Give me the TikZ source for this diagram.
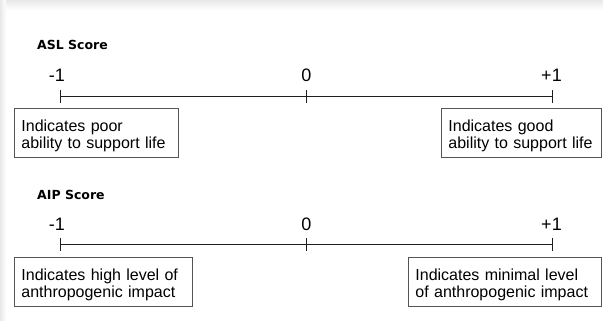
\documentclass[tikz,border=0pt]{standalone}
\usepackage{fontspec}
\setmainfont{Liberation Sans}
\newfontfamily\titlefont{DejaVu Sans}
\usetikzlibrary{positioning}
\definecolor{boxline}{gray}{0.33}
\definecolor{axisink}{gray}{0.12}
\definecolor{pageshadow}{gray}{0.91}
\tikzset{
  scaletitle/.style={font=\titlefont\bfseries\fontsize{12.5}{14}\selectfont,
    anchor=base west, inner sep=0pt},
  ticklabel/.style={font=\fontsize{18}{20}\selectfont, anchor=base, inner sep=0pt},
  notebox/.style={draw=boxline, line width=0.9pt, align=left, anchor=north west,
    text width=#1, minimum height=49pt, inner xsep=7pt, inner ysep=0pt,
    font=\fontsize{16}{17.5}\selectfont,
    execute at begin node={\rule{0pt}{17.5pt}}},
  axisline/.style={line width=0.9pt, color=axisink}
}

\begin{document}
\begin{tikzpicture}[x=1pt, y=-1pt]
    \useasboundingbox (0,0) rectangle (603,321);
    % Page shadow
    \shade[top color=pageshadow, bottom color=white] (0,0) rectangle (603,10);
    \shade[left color=pageshadow, right color=white] (0,0) rectangle (6,321);

    % ASL scale
    \node[scaletitle] (asl) at (37,50) {ASL Score};
    \coordinate (aslmin) at (60,96.5);
    \coordinate (aslmid) at (306.5,96.5);
    \coordinate (aslmax) at (552,96.5);
    \draw[axisline] (aslmin) -- (aslmax);
    \foreach \t in {aslmin, aslmid, aslmax}
      \draw[axisline] (\t) ++(0,-6) -- ++(0,12.5);
    \node[ticklabel] (aslminlab) at (57,82) {-1};
    \node[ticklabel] (aslmidlab) at (306.5,82) {0};
    \node[ticklabel] (aslmaxlab) at (551.5,82) {+1};
    \node[notebox=150pt] (aslpoor) at (14,108) {Indicates poor\\ability to support life};
    \node[notebox=146pt] (aslgood) at (441,108) {Indicates good\\ability to support life};

    % AIP scale
    \node[scaletitle] (aip) at (37,199) {AIP Score};
    \coordinate (aipmin) at (60,244);
    \coordinate (aipmid) at (306.5,244);
    \coordinate (aipmax) at (552,244);
    \draw[axisline] (aipmin) -- (aipmax);
    \foreach \t in {aipmin, aipmid, aipmax}
      \draw[axisline] (\t) ++(0,-6) -- ++(0,12.5);
    \node[ticklabel] (aipminlab) at (57,230) {-1};
    \node[ticklabel] (aipmidlab) at (306.5,230) {0};
    \node[ticklabel] (aipmaxlab) at (551.5,230) {+1};
    \node[notebox=164pt] (aiphigh) at (14,257) {Indicates high level of\\anthropogenic impact};
    \node[notebox=179pt] (aiplow) at (408,257) {Indicates minimal level\\of anthropogenic impact};
\end{tikzpicture}
\end{document}
